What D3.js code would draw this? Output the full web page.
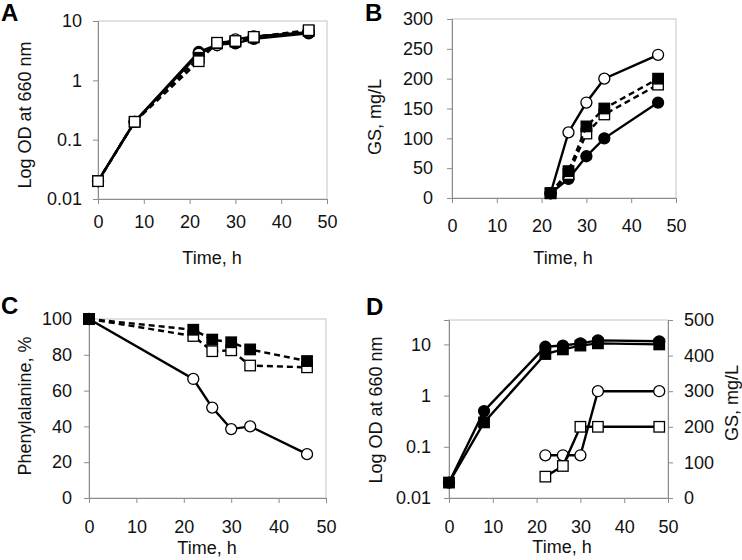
<!DOCTYPE html>
<html><head><meta charset="utf-8">
<script src="https://cdn.jsdelivr.net/npm/d3@7"></script>
<style>
body{margin:0;background:#fff;}
svg{display:block;font-family:"Liberation Sans",Arial,sans-serif;}
</style></head>
<body><svg id="chart" width="742" height="560"></svg>
<script>
// ---------- DATA ----------
const timeA = [0, 8, 22, 26, 30, 34, 46];
const odA_filledCircle = [0.02, 0.2, 3.0, 4.0, 4.2, 5.0, 6.2];
const odA_openCircle   = [0.02, 0.2, 2.8, 3.9, 4.9, 5.5, 6.5];
const odA_filledSquare = [0.02, 0.2, 2.4, 4.2, 4.5, 5.3, 6.8];
const odA_openSquare   = [0.02, 0.2, 2.1, 4.3, 4.6, 5.4, 7.0];

const timeB = [22, 26, 30, 34, 46];
const gsB_openCircle   = [8, 110, 160, 200, 240];
const gsB_filledSquare = [8, 45, 120, 150, 200];
const gsB_openSquare   = [8, 40, 108, 140, 190];
const gsB_filledCircle = [8, 32, 70, 100, 160];

const timeC = [0, 22, 26, 30, 34, 46];
const pheC_openCircle   = [100, 66.5, 50.5, 38.5, 40, 24.5];
const pheC_filledSquare = [100, 94, 88.5, 87, 83, 76.5];
const pheC_openSquare   = [100, 90.5, 82, 82.5, 74, 73];

const timeD = [0, 8, 22, 26, 30, 34, 48];
const odD_filledCircle = [0.02, 0.5, 9, 9.5, 10.5, 12, 11.5];
const odD_filledSquare = [0.02, 0.3, 6.5, 8, 9.5, 10.5, 10];
const timeD_gs = [22, 26, 30, 34, 48];
const gsD_openCircle = [120, 120, 120, 300, 300];
const gsD_openSquare = [60, 90, 200, 200, 200];

const xTicks = [0, 10, 20, 30, 40, 50];
const logTicks = [0.01, 0.1, 1, 10];
const gsTicksB = [0, 50, 100, 150, 200, 250, 300];
const pheTicks = [0, 20, 40, 60, 80, 100];
const gsTicksD = [0, 100, 200, 300, 400, 500];

// ---------- DRAW ----------
const svg = d3.select("#chart");
const FS = 18;
const axisCol = "#8c8c8c", frameCol = "#c4c4c4";

function panel(cfg) {
  const g = svg.append("g");
  const x = d3.scaleLinear().domain([0, 50]).range([cfg.x0, cfg.x1]);
  g.append("rect").attr("x", cfg.x0).attr("y", cfg.y0)
    .attr("width", cfg.x1 - cfg.x0).attr("height", cfg.y1 - cfg.y0)
    .attr("fill", "none").attr("stroke", frameCol).attr("stroke-width", 1);
  const xa = g.append("g").attr("transform", `translate(0,${cfg.y1})`)
    .call(d3.axisBottom(x).tickValues(xTicks).tickSize(5).tickPadding(cfg.xPad).tickFormat(d3.format("d")));
  xa.select(".domain").attr("stroke", axisCol);
  xa.selectAll(".tick line").attr("stroke", axisCol);
  xa.selectAll("text").attr("font-size", FS).attr("fill", "#111").attr("font-family", "Liberation Sans, Arial, sans-serif");
  g.append("text").attr("x", cfg.xLabelX).attr("y", cfg.xLabelY).attr("text-anchor", "middle")
    .attr("font-size", FS).attr("fill", "#111").text("Time, h");
  return {g, x};
}

function yAxisLeft(g, y, ticks, fmt, cfg, label, lx, ly) {
  const ya = g.append("g").attr("transform", `translate(${cfg.x0},0)`)
    .call(d3.axisLeft(y).tickValues(ticks).tickSize(5).tickPadding(cfg.yPad).tickFormat(fmt));
  ya.select(".domain").attr("stroke", axisCol);
  ya.selectAll(".tick line").attr("stroke", axisCol);
  ya.selectAll("text").attr("font-size", FS).attr("fill", "#111").attr("font-family", "Liberation Sans, Arial, sans-serif");
  g.append("text").attr("transform", `translate(${lx},${ly}) rotate(-90)`)
    .attr("text-anchor", "middle").attr("font-size", FS).attr("fill", "#111").text(label);
}

function series(g, x, y, xs, ys, opt) {
  const pts = xs.map((t, i) => [t, ys[i]]);
  const line = d3.line().x(d => x(d[0])).y(d => y(d[1]));
  g.append("path").datum(pts).attr("d", line).attr("fill", "none")
    .attr("stroke", "#000").attr("stroke-width", 2.4)
    .attr("stroke-dasharray", opt.dash ? "6,4" : null);
  const fill = opt.filled ? "#000" : "#fff";
  if (opt.shape === "circle") {
    g.selectAll(null).data(pts).enter().append("circle")
      .attr("cx", d => x(d[0])).attr("cy", d => y(d[1])).attr("r", 5.5)
      .attr("fill", fill).attr("stroke", "#000").attr("stroke-width", 1.3);
  } else {
    const s = 10.5;
    g.selectAll(null).data(pts).enter().append("rect")
      .attr("x", d => x(d[0]) - s / 2).attr("y", d => y(d[1]) - s / 2)
      .attr("width", s).attr("height", s)
      .attr("fill", fill).attr("stroke", "#000").attr("stroke-width", 1.3);
  }
}

function letter(t, lx, ly) {
  svg.append("text").attr("x", lx).attr("y", ly).attr("font-size", 24)
    .attr("font-weight", "bold").attr("fill", "#000").text(t);
}

// Panel A
{
  const cfg = {x0: 98, x1: 327, y0: 21, y1: 199, xPad: 11, yPad: 11, xLabelX: 212, xLabelY: 264};
  const {g, x} = panel(cfg);
  const y = d3.scaleLog().domain([0.01, 10]).range([cfg.y1, cfg.y0]);
  yAxisLeft(g, y, logTicks, d => String(d), cfg, "Log OD at 660 nm", 31, 115);
  series(g, x, y, timeA, odA_filledCircle, {shape: "circle", filled: true, dash: false});
  series(g, x, y, timeA, odA_openCircle, {shape: "circle", filled: false, dash: false});
  series(g, x, y, timeA, odA_filledSquare, {shape: "square", filled: true, dash: true});
  series(g, x, y, timeA, odA_openSquare, {shape: "square", filled: false, dash: true});
  letter("A", 1, 21);
}

// Panel B
{
  const cfg = {x0: 452, x1: 676, y0: 19, y1: 198, xPad: 16, yPad: 14, xLabelX: 563, xLabelY: 264};
  const {g, x} = panel(cfg);
  const y = d3.scaleLinear().domain([0, 300]).range([cfg.y1, cfg.y0]);
  yAxisLeft(g, y, gsTicksB, d3.format("d"), cfg, "GS, mg/L", 381, 117);
  series(g, x, y, timeB, gsB_filledCircle, {shape: "circle", filled: true, dash: false});
  series(g, x, y, timeB, gsB_openCircle, {shape: "circle", filled: false, dash: false});
  series(g, x, y, timeB, gsB_openSquare, {shape: "square", filled: false, dash: true});
  series(g, x, y, timeB, gsB_filledSquare, {shape: "square", filled: true, dash: true});
  letter("B", 365, 21);
}

// Panel C
{
  const cfg = {x0: 89, x1: 326, y0: 319, y1: 498, xPad: 17, yPad: 12, xLabelX: 207, xLabelY: 554};
  const {g, x} = panel(cfg);
  const y = d3.scaleLinear().domain([0, 100]).range([cfg.y1, cfg.y0]);
  yAxisLeft(g, y, pheTicks, d3.format("d"), cfg, "Phenylalanine, %", 31, 406);
  series(g, x, y, timeC, pheC_openCircle, {shape: "circle", filled: false, dash: false});
  series(g, x, y, timeC, pheC_openSquare, {shape: "square", filled: false, dash: true});
  series(g, x, y, timeC, pheC_filledSquare, {shape: "square", filled: true, dash: true});
  letter("C", 1, 314);
}

// Panel D
{
  const cfg = {x0: 449, x1: 668, y0: 320, y1: 498, xPad: 17, yPad: 13, xLabelX: 562, xLabelY: 553};
  const {g, x} = panel(cfg);
  const y = d3.scaleLog().domain([0.01, 30]).range([cfg.y1, cfg.y0]);
  yAxisLeft(g, y, logTicks, d => String(d), cfg, "Log OD at 660 nm", 382, 410);
  const y2 = d3.scaleLinear().domain([0, 500]).range([cfg.y1, cfg.y0]);
  const ra = g.append("g").attr("transform", `translate(${cfg.x1},0)`)
    .call(d3.axisRight(y2).tickValues(gsTicksD).tickSize(5).tickPadding(11).tickFormat(d3.format("d")));
  ra.select(".domain").attr("stroke", axisCol);
  ra.selectAll(".tick line").attr("stroke", axisCol);
  ra.selectAll("text").attr("font-size", FS).attr("fill", "#111").attr("font-family", "Liberation Sans, Arial, sans-serif");
  g.append("text").attr("transform", `translate(738,403) rotate(-90)`)
    .attr("text-anchor", "middle").attr("font-size", FS).attr("fill", "#111").text("GS, mg/L");
  series(g, x, y, timeD, odD_filledSquare, {shape: "square", filled: true, dash: false});
  series(g, x, y, timeD, odD_filledCircle, {shape: "circle", filled: true, dash: false});
  series(g, x, y2, timeD_gs, gsD_openCircle, {shape: "circle", filled: false, dash: false});
  series(g, x, y2, timeD_gs, gsD_openSquare, {shape: "square", filled: false, dash: false});
  letter("D", 366, 315);
}
</script></body></html>
